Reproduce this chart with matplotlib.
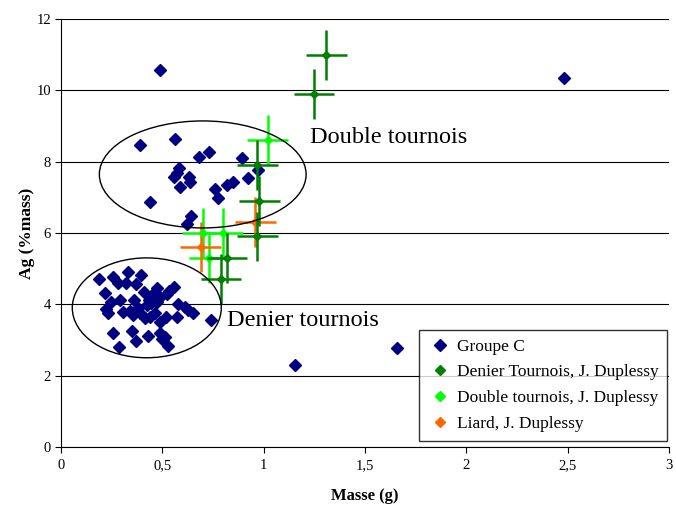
import matplotlib
matplotlib.use("Agg")
import matplotlib.pyplot as plt
from matplotlib.patches import Ellipse
from matplotlib.lines import Line2D

# Groupe C
groupe_x = [0.49, 2.48, 1.155, 1.66,
            0.39, 0.562, 0.682, 0.733, 0.893, 0.582, 0.571, 0.559, 0.631, 0.635, 0.59,
            0.975, 0.924, 0.85, 0.822, 0.76, 0.773, 0.439, 0.641, 0.62,
            0.189, 0.258, 0.331, 0.396, 0.283, 0.319, 0.372, 0.217, 0.248, 0.293,
            0.41, 0.472, 0.46, 0.559, 0.533, 0.525, 0.488, 0.362, 0.436, 0.472,
            0.447, 0.423, 0.579, 0.612, 0.628, 0.653, 0.743, 0.225, 0.233, 0.307,
            0.34, 0.381, 0.357, 0.39, 0.414, 0.439, 0.464, 0.488, 0.521, 0.571,
            0.258, 0.349, 0.431, 0.37, 0.288, 0.488, 0.513, 0.529, 0.497]
groupe_y = [10.57, 10.35, 2.30, 2.78,
            8.47, 8.63, 8.14, 8.27, 8.11, 7.83, 7.69, 7.56, 7.56, 7.42, 7.30,
            7.77, 7.55, 7.43, 7.33, 7.23, 6.97, 6.87, 6.47, 6.25,
            4.70, 4.77, 4.91, 4.81, 4.61, 4.59, 4.56, 4.31, 4.07, 4.11,
            4.33, 4.45, 4.31, 4.49, 4.38, 4.28, 4.21, 4.12, 4.12, 4.07,
            4.03, 3.98, 4.00, 3.93, 3.84, 3.75, 3.56, 3.86, 3.75, 3.77,
            3.82, 3.89, 3.70, 3.75, 3.61, 3.65, 3.75, 3.51, 3.64, 3.64,
            3.20, 3.26, 3.12, 2.97, 2.81, 3.20, 3.07, 2.83, 3.02]

# Denier Tournois, J. Duplessy
denier_x = [1.31, 1.25, 0.97, 0.98, 0.97, 0.82, 0.79]
denier_y = [11.0, 9.9, 7.9, 6.9, 5.9, 5.3, 4.7]
denier_xerr = [0.1] * 7
denier_yerr = [0.7] * 7

# Double tournois, J. Duplessy
double_x = [1.02, 0.70, 0.80, 0.73]
double_y = [8.6, 6.0, 6.0, 5.3]
double_xerr = [0.1] * 4
double_yerr = [0.7] * 4

# Liard, J. Duplessy
liard_x = [0.69, 0.96]
liard_y = [5.6, 6.3]
liard_xerr = [0.1] * 2
liard_yerr = [0.7] * 2

labels = ["Groupe C", "Denier Tournois, J. Duplessy",
          "Double tournois, J. Duplessy", "Liard, J. Duplessy"]
colors = ["#000080", "#008000", "#00FF00", "#FF6600"]

plt.rcParams['font.family'] = ['Liberation Serif', 'DejaVu Serif']

fig = plt.figure(figsize=(6.76, 5.05), dpi=100)
ax = fig.add_axes([0.090, 0.115, 0.8996, 0.8475])

ax.set_xlim(0, 3)
ax.set_ylim(0, 12)
ax.set_xticks([0, 0.5, 1, 1.5, 2, 2.5, 3])
ax.set_xticklabels(["0", "0,5", "1", "1,5", "2", "2,5", "3"])
ax.set_yticks([0, 2, 4, 6, 8, 10, 12])
ax.tick_params(direction='out', length=4, labelsize=10.5)
ax.tick_params(axis='x', pad=5)
ax.tick_params(axis='y', pad=3)
for s in ['top', 'right']:
    ax.spines[s].set_visible(False)
ax.grid(axis='y', color='black', linewidth=0.8)
ax.set_axisbelow(True)

ax.plot(groupe_x, groupe_y, 'D', color=colors[0], markersize=6.3, zorder=3)

ax.errorbar(denier_x, denier_y, xerr=denier_xerr, yerr=denier_yerr, fmt='D',
            color=colors[1], markersize=4.5, elinewidth=1.8, capsize=0, zorder=5)
ax.errorbar(double_x, double_y, xerr=double_xerr, yerr=double_yerr, fmt='D',
            color=colors[2], markersize=4.5, elinewidth=1.8, capsize=0, zorder=4)
ax.errorbar(liard_x, liard_y, xerr=liard_xerr, yerr=liard_yerr, fmt='D',
            color=colors[3], markersize=4.5, elinewidth=1.8, capsize=0, zorder=4)

ax.add_patch(Ellipse((0.70, 7.64), 1.02, 3.0, fill=False, edgecolor='black',
                     linewidth=1.0, zorder=6))
ax.add_patch(Ellipse((0.424, 3.90), 0.735, 2.80, fill=False, edgecolor='black',
                     linewidth=1.0, zorder=6))

ax.text(1.23, 8.67, "Double tournois", fontsize=17.5, va='center', ha='left')
ax.text(0.82, 3.55, "Denier tournois", fontsize=17.5, va='center', ha='left')

ax.set_xlabel("Masse (g)", fontsize=12, fontweight='bold', labelpad=11)
ax.set_ylabel("Ag (%mass)", fontsize=12.5, fontweight='bold', labelpad=1)

handles = [Line2D([], [], linestyle='none', marker='D', color=c,
                  markersize=6 if i == 0 else 5) for i, c in enumerate(colors)]
leg = ax.legend(handles, labels, loc='lower right', bbox_to_anchor=(0.997, 0.015),
                fontsize=12.5, frameon=True, fancybox=False, edgecolor='black',
                handlelength=1.5, handletextpad=0.2, borderpad=0.5,
                labelspacing=0.55, borderaxespad=0)
leg.get_frame().set_linewidth(1.0)
leg.set_zorder(10)

fig.savefig("out.png", dpi=100)
